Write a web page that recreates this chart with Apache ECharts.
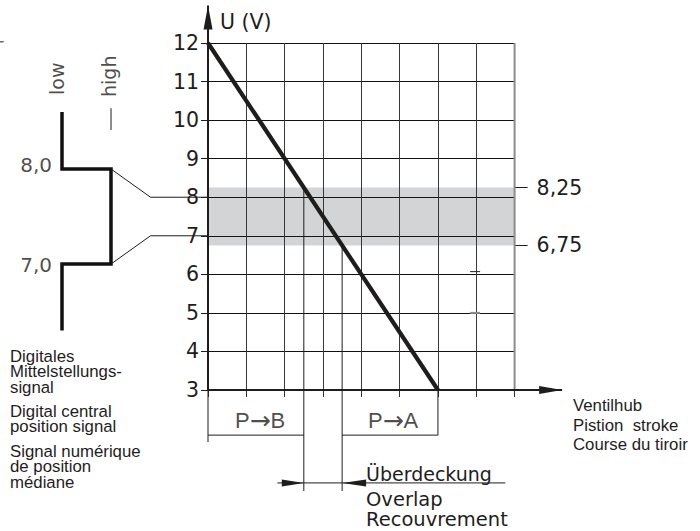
<!DOCTYPE html>
<html><head><meta charset="utf-8">
<script src="https://cdn.jsdelivr.net/npm/echarts@6/dist/echarts.min.js"></script>
<style>html,body{margin:0;padding:0;background:#fff}#c{width:700px;height:531px}</style>
</head><body><div id="c"></div>
<script>
// ---------------- data ----------------
const strokeTicks = [0, 1, 2, 3, 4, 5, 6, 7, 8];        // valve stroke grid divisions
const voltageTicks = [3, 4, 5, 6, 7, 8, 9, 10, 11, 12]; // U (V) tick values
const strokeX = [0, 6];          // valve stroke position (grid units)
const strokeU = [12, 3];         // command voltage U (V)
const bandLimits = [6.75, 8.25]; // central position band (V)
const bandLabels = ['6,75', '8,25'];
const overlapLimits = [2.5, 3.5];// overlap region on the stroke axis
const signalLevels = [8.0, 7.0]; // digital central-position signal thresholds (V)
const signalLevelLabels = ['8,0', '7,0'];
const signalStates = ['low', 'high'];
const flowLabels = ['P', 'B', 'P', 'A']; // P→B, P→A

// ---------------- layout / style ----------------
const INK = '#1f1d1c';
const FONT = '"DejaVu Sans"';
const FONT2 = '"Liberation Sans"';
const L = {
  yArrowTip: 12.97, xArrowTip: 9.24,
  bracketY: 1.83, bracketDrop: 1.65, bracketLabelY: 2.2, bracketLabelX: [1.36, 4.83],
  overlapLineY: 0.59, overlapDrop: 0.38, overlapLineFrom: 1.81, overlapLineTo: 7.76,
  connectorBendX: -1.5,
  signalTop: 8.6, signalBottom: 6.3, highDash: [8.41, 8.64]
};
const arrowHeads = [ // tip x, tip y, direction in degrees (0 = right, 90 = up)
  [0, L.yArrowTip, 90],
  [L.xArrowTip, strokeU[1], 0],
  [overlapLimits[0], L.overlapLineY, 0],
  [overlapLimits[1], L.overlapLineY, 180]
];
const arrowSize = [[24, 4.5], [23, 4], [22, 3.5], [24, 3.5]];

const xMin = strokeTicks[0], xMax = strokeTicks[strokeTicks.length - 1];
const yMin = voltageTicks[0], yMax = voltageTicks[voltageTicks.length - 1];

// annotation polylines in the main stroke/voltage coordinates
const mainLines = [
  { pts: [[xMax, yMin], [xMax, yMax]], w: 2, c: '#8c8c8c' },
  { pts: [[xMin, yMin], [xMin, L.yArrowTip]], w: 2, c: INK },
  { pts: [[xMin, yMin], [L.xArrowTip, yMin]], w: 2, c: INK },
  { pts: [[overlapLimits[0], bandLimits[1]], [overlapLimits[0], L.overlapDrop]], w: 1, c: INK },
  { pts: [[overlapLimits[1], bandLimits[0]], [overlapLimits[1], L.overlapDrop]], w: 1, c: INK },
  { pts: [[xMin, yMin], [xMin, L.bracketDrop]], w: 1, c: INK },
  { pts: [[xMin, L.bracketY], [overlapLimits[0], L.bracketY]], w: 1, c: INK },
  { pts: [[overlapLimits[1], L.bracketY], [strokeX[1], L.bracketY], [strokeX[1], yMin]], w: 1, c: INK },
  { pts: [[L.overlapLineFrom, L.overlapLineY], [L.overlapLineTo, L.overlapLineY]], w: 1, c: INK },
  { pts: [[6.84, 6.07], [7.1, 6.07]], w: 1, c: INK },
  { pts: [[6.84, 5], [7.1, 5]], w: 2, c: '#8c8c8c' },
  { pts: [[-5.43, 12.03], [-5.33, 12.03]], w: 1, c: INK },
  { id: 'conn0', pts: [[L.connectorBendX, signalLevels[0]], [xMin, signalLevels[0]]], w: 1, c: INK },
  { id: 'conn1', pts: [[L.connectorBendX, signalLevels[1]], [xMin, signalLevels[1]]], w: 1, c: INK }
];
// schematic polylines in the signal grid (x: 0 = low, 1 = high)
const sigLines = [
  { pts: [[0, L.signalTop], [0, signalLevels[0]], [1, signalLevels[0]], [1, signalLevels[1]],
    [0, signalLevels[1]], [0, L.signalBottom]], w: 3.5, c: '#111' },
  { pts: [[1, L.highDash[0]], [1, L.highDash[1]]], w: 1, c: INK }
];

function polySeries(id, lines, axes) {
  return Object.assign({
    type: 'custom', id: id, coordinateSystem: 'cartesian2d', silent: true, clip: false, z: 3,
    data: lines.map((l, i) => [l.pts[0][0], l.pts[0][1], i]),
    renderItem: function (p, api) {
      const l = lines[api.value(2)];
      return { type: 'polyline', shape: { points: l.pts.map(q => api.coord(q)) },
        style: { stroke: l.c, lineWidth: l.w, fill: null } };
    }
  }, axes || {});
}

const series = [
  { type: 'custom', id: 'band', coordinateSystem: 'cartesian2d', silent: true, z: 1, clip: false,
    data: [[xMin, bandLimits[0], xMax, bandLimits[1]]],
    renderItem: function (p, api) {
      const a = api.coord([api.value(0), api.value(1)]);
      const b = api.coord([api.value(2), api.value(3)]);
      return { type: 'rect', shape: { x: a[0], y: b[1], width: b[0] - a[0], height: a[1] - b[1] },
        style: { fill: 'rgba(35,40,50,0.2)' } };
    } },
  polySeries('mainLines', mainLines),
  { type: 'line', id: 'stroke', data: strokeX.map((x, i) => [x, strokeU[i]]), symbol: 'none',
    silent: true, z: 5, lineStyle: { width: 4.2, color: INK } },
  { type: 'custom', id: 'arrows', coordinateSystem: 'cartesian2d', silent: true, clip: false, z: 6,
    data: arrowHeads,
    renderItem: function (p, api) {
      const t = api.coord([api.value(0), api.value(1)]);
      const ang = api.value(2) * Math.PI / 180;
      const len = arrowSize[p.dataIndex][0], hw = arrowSize[p.dataIndex][1];
      const dx = Math.cos(ang), dy = -Math.sin(ang);
      const bx = t[0] - dx * len, by = t[1] - dy * len;
      const nx = -dy, ny = dx;
      return { type: 'polygon', shape: { points: [t, [bx + nx * hw, by + ny * hw], [bx - nx * hw, by - ny * hw]] },
        style: { fill: INK } };
    } },
  { type: 'scatter', id: 'flowLabels', symbolSize: 0, clip: false, silent: true, z: 6,
    data: L.bracketLabelX.map((x, i) => ({ value: [x, L.bracketLabelY],
      name: '{p|' + flowLabels[2 * i] + '}{r|\u2192}{p|' + flowLabels[2 * i + 1] + '}' })),
    label: { show: true, position: 'inside', formatter: '{b}', color: INK,
      rich: { p: { fontFamily: FONT2, fontSize: 22, color: INK }, r: { fontFamily: FONT, fontSize: 25, color: INK } } } },
  // digital signal schematic (own grid)
  polySeries('signal', sigLines, { xAxisIndex: 1, yAxisIndex: 2 }),
  { type: 'scatter', id: 'signalLevelLabels', xAxisIndex: 1, yAxisIndex: 2, symbolSize: 0, clip: false, silent: true,
    data: signalLevels.map((v, i) => ({ value: [0, v], name: signalLevelLabels[i],
      label: { offset: [0, i === 0 ? -4 : 1] } })),
    label: { show: true, position: 'left', distance: 10, formatter: '{b}', color: INK,
      fontFamily: FONT, fontSize: 20 } },
  { type: 'scatter', id: 'signalStates', xAxisIndex: 1, yAxisIndex: 2, symbolSize: 0, clip: false, silent: true,
    data: signalStates.map((s, i) => ({ value: [i, L.signalTop], name: s,
      label: { position: i === 0 ? [-5, -17] : [-2, -15] } })),
    label: { show: true, rotate: 90, align: 'left', verticalAlign: 'middle', formatter: '{b}',
      color: INK, fontFamily: FONT, fontSize: 19 } }
];

const option = {
  animation: false,
  backgroundColor: '#fff',
  textStyle: { fontFamily: FONT, color: INK },
  grid: [
    { left: 208, top: 43, width: 306.6, height: 347 },
    { left: 62, top: 112, width: 49, height: 218.5 }
  ],
  xAxis: [
    { gridIndex: 0, type: 'value', min: xMin, max: xMax, interval: 1,
      axisLine: { show: false },
      axisTick: { show: true, length: 7, lineStyle: { color: '#333', width: 1 } },
      axisLabel: { show: false },
      splitLine: { show: true, lineStyle: { color: '#3a3a3a', width: 1 } } },
    { gridIndex: 1, type: 'value', min: 0, max: 1, show: false }
  ],
  yAxis: [
    { gridIndex: 0, type: 'value', min: yMin, max: yMax, interval: 1,
      name: 'U (V)', nameLocation: 'end', nameGap: 21.5,
      nameTextStyle: { fontSize: 20.5, fontFamily: FONT, color: INK, align: 'left', verticalAlign: 'middle', padding: [0, 0, 0, 12] },
      axisLine: { show: false },
      axisTick: { show: true, length: 7, lineStyle: { color: INK, width: 1 } },
      axisLabel: { fontSize: 20.5, fontFamily: FONT, color: INK, margin: 9 },
      splitLine: { show: true, lineStyle: { color: '#111', width: 1 } } },
    { gridIndex: 0, type: 'value', position: 'right', min: yMin, max: yMax,
      axisLine: { show: false }, splitLine: { show: false },
      axisTick: { show: true, customValues: bandLimits, length: 13, lineStyle: { color: INK, width: 1 } },
      axisLabel: { customValues: bandLimits, margin: 22, fontSize: 20.5, fontFamily: FONT, color: INK,
        formatter: function (v) { const i = bandLimits.indexOf(v); return i >= 0 ? bandLabels[i] : ''; } } },
    { gridIndex: 1, type: 'value', min: L.signalBottom, max: L.signalTop, show: false }
  ],
  graphic: [
    { type: 'text', left: 10, top: 347.5, style: { text: 'Digitales\nMittelstellungs-\nsignal', font: '16.8px ' + FONT2, fill: INK, lineHeight: 15.5 } },
    { type: 'text', left: 10, top: 402.5, style: { text: 'Digital central\nposition signal', font: '16.8px ' + FONT2, fill: INK, lineHeight: 15.5 } },
    { type: 'text', left: 10, top: 442.5, style: { text: 'Signal num\u00e9rique\nde position\nm\u00e9diane', font: '16.8px ' + FONT2, fill: INK, lineHeight: 15.5 } },
    { type: 'text', left: 573, top: 396, style: { text: 'Ventilhub\nPistion  stroke\nCourse du tiroir', font: '16.8px ' + FONT2, fill: INK, lineHeight: 19.5 } },
    { type: 'text', left: 366, top: 463, style: { text: '\u00dcberdeckung', font: '19px ' + FONT, fill: INK, lineHeight: 22 } },
    { type: 'text', left: 366, top: 489, style: { text: 'Overlap\nRecouvrement', font: '19.5px ' + FONT, fill: INK, lineHeight: 20.5 } }
  ],
  series: series
};

const chart = echarts.init(document.getElementById('c'), null, { renderer: 'svg', width: 700, height: 531 });
chart.setOption(option);

// connectors: from the schematic's "high" corners to the voltage axis
try {
  const sigIdx = series.findIndex(s => s.id === 'signal');
  const mainIdx = series.findIndex(s => s.id === 'stroke');
  signalLevels.forEach((lvl, i) => {
    const px = chart.convertToPixel({ seriesIndex: sigIdx }, [1, lvl]);
    const m = chart.convertFromPixel({ seriesIndex: mainIdx }, px);
    if (m && isFinite(m[0]) && isFinite(m[1])) {
      const l = mainLines.find(e => e.id === 'conn' + i);
      l.pts = [m, [L.connectorBendX, lvl], [xMin, lvl]];
    }
  });
  chart.setOption({ series: [{ id: 'mainLines',
    data: mainLines.map((l, i) => [l.pts[0][0], l.pts[0][1], i]) }] });
} catch (e) { console.error(e); }
</script></body></html>
